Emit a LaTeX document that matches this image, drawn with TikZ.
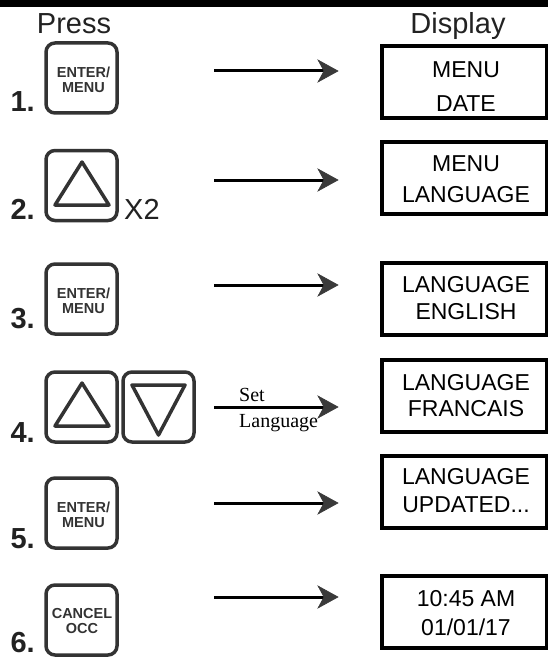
\documentclass[tikz,border=0pt]{standalone}
\usepackage{fontspec}
\setmainfont{Liberation Sans}
\newfontfamily\serifface{Liberation Serif}
\usetikzlibrary{arrows.meta,calc}
\definecolor{ink}{HTML}{222222}
\definecolor{btngray}{HTML}{333333}
\definecolor{headgray}{HTML}{3A3A3A}
\tikzset{
  btn/.style={draw=btngray, line width=3.5pt, rounded corners=9pt, minimum width=71pt, minimum height=70pt, inner sep=0pt},
  btntext/.style={text=btngray, align=center, font=\bfseries\fontsize{14.5}{15}\selectfont, inner sep=0pt},
  tri/.style={draw=btngray, line width=3.5pt, line join=round},
  numlabel/.style={anchor=base east, text=ink, font=\bfseries\fontsize{29}{30}\selectfont, inner sep=0pt},
  headtext/.style={anchor=base, text=ink, font=\fontsize{29}{30}\selectfont, inner sep=0pt},
  disp/.style={draw=black, line width=3.5pt, minimum width=165pt, inner sep=0pt},
  dtext/.style={align=center, text=black, inner sep=0pt},
  flow/.style={line width=3pt},
  flowhead/.style={fill=headgray, draw=headgray, line width=0.6pt, line join=miter}
}
\begin{document}
\begin{tikzpicture}[x=1pt, y=-1pt]
\useasboundingbox (0,0) rectangle (548,658);
\fill[black] (0,0) rectangle (548,7);
% headings
\node[headtext] (hpress) at (74,34) {Press};
\node[headtext] (hdisp) at (458,34) {Display};
% buttons
\node[btn] (b1) at (81.5,78) {};
\node[btntext] (b1t) at (83.5,80) {ENTER/\\MENU};
\node[btn] (b2) at (81.5,185.5) {};
\node[btn] (b3) at (81.5,299) {};
\node[btntext] (b3t) at (83.5,301) {ENTER/\\MENU};
\node[btn] (b4a) at (81.5,407) {};
\node[btn] (b4b) at (158.5,407) {};
\node[btn] (b5) at (81.5,513) {};
\node[btntext] (b5t) at (83.5,515) {ENTER/\\MENU};
\node[btn] (b6) at (81.5,620) {};
\node[btntext] (b6t) at (82,621) {CANCEL\\OCC};
% triangles
\draw[tri] (82,162) -- (109,205) -- (55,205) -- cycle;
\draw[tri] (82,383) -- (109,426) -- (55,426) -- cycle;
\draw[tri] (132,385) -- (185,385) -- (158.5,435) -- cycle;
\node[anchor=base west, text=ink, font=\fontsize{29}{30}\selectfont, inner sep=0pt] (x2) at (124,219) {X2};
% numbers
\node[numlabel] (n1) at (35,112) {1.};
\node[numlabel] (n2) at (35,219) {2.};
\node[numlabel] (n3) at (35,328) {3.};
\node[numlabel] (n4) at (35,442) {4.};
\node[numlabel] (n5) at (35,548) {5.};
\node[numlabel] (n6) at (35,652) {6.};
% arrows
\foreach \i/\yy in {1/71,2/180,3/285,4/407,5/503,6/597}{
  \coordinate (s\i) at (214,\yy);
  \coordinate (e\i) at (338,\yy);
  \draw[flow] (s\i) -- ($(e\i)+(-12,0)$);
  \fill[flowhead] (e\i) -- ++(-20,-11) -- ++(6,11) -- ++(-6,11) -- cycle;
}
\node[anchor=base west, inner sep=0pt, font=\serifface\fontsize{20}{22}\selectfont] (setlbl) at (239,401) {Set};
\node[anchor=base west, inner sep=0pt, font=\serifface\fontsize{20}{22}\selectfont] (langlbl) at (239,427) {Language};
% display boxes
\node[disp, minimum height=72pt] (d1) at (464.5,82) {};
\node[disp, minimum height=72pt] (d2) at (464.5,178) {};
\node[disp, minimum height=72pt] (d3) at (464.5,299) {};
\node[disp, minimum height=72pt] (d4) at (464.5,396) {};
\node[disp, minimum height=72pt] (d5) at (464.5,492) {};
\node[disp, minimum height=72pt] (d6) at (464.5,612) {};
\node[dtext, font=\fontsize{23}{34}\selectfont] (t1) at (466,87) {MENU\\DATE};
\node[dtext, font=\fontsize{23}{31}\selectfont] (t2) at (466,179) {MENU\\LANGUAGE};
\node[dtext, font=\fontsize{23}{27}\selectfont] (t3) at (466,298.5) {LANGUAGE\\ENGLISH};
\node[dtext, font=\fontsize{23}{26}\selectfont] (t4) at (466,396) {LANGUAGE\\FRANCAIS};
\node[dtext, font=\fontsize{23}{28}\selectfont] (t5) at (466,490.5) {LANGUAGE\\UPDATED...};
\node[dtext, font=\fontsize{23}{29}\selectfont] (t6) at (466,613) {10:45 AM\\01/01/17};
\end{tikzpicture}
\end{document}
